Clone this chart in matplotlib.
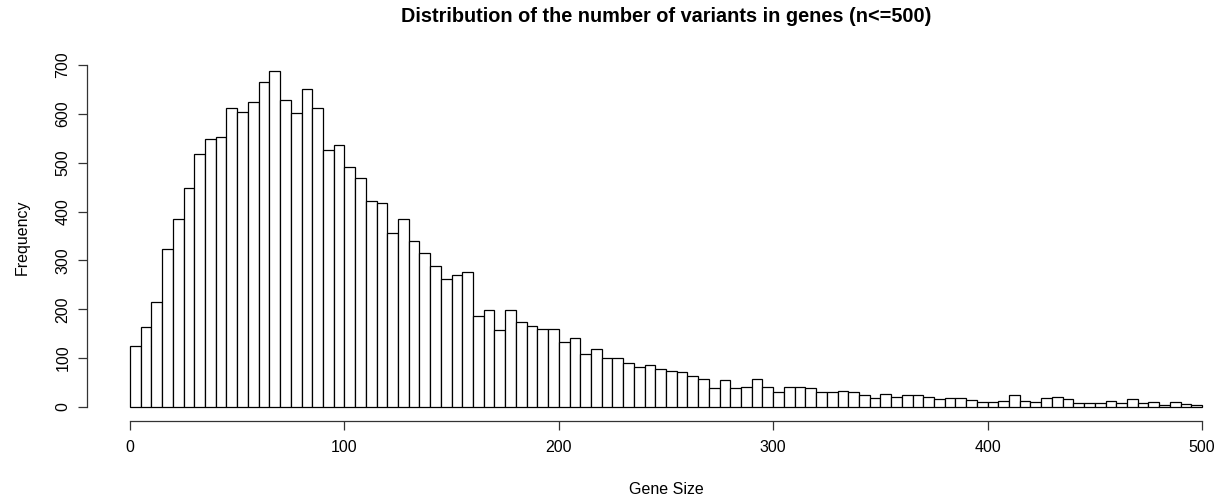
import matplotlib
matplotlib.use("Agg")
import matplotlib.pyplot as plt
import numpy as np

plt.rcParams['font.family'] = ['Liberation Sans', 'DejaVu Sans']

# Histogram bins (width 5) from 0 to 500
bin_edges = list(range(0, 505, 5))
counts = [
    124, 164, 215, 324, 384, 449, 518, 549, 553, 612,
    604, 624, 666, 687, 628, 601, 650, 612, 527, 537,
    492, 468, 422, 417, 357, 385, 340, 315, 288, 261,
    271, 277, 186, 198, 158, 199, 173, 165, 160, 160,
    133, 141, 108, 119, 101, 101, 90, 81, 86, 77,
    74, 72, 64, 58, 38, 55, 38, 41, 58, 41,
    31, 40, 40, 38, 30, 30, 33, 31, 24, 19,
    27, 21, 25, 25, 21, 17, 18, 18, 14, 10,
    10, 13, 25, 13, 10, 18, 21, 16, 8, 8,
    8, 13, 8, 16, 8, 10, 5, 10, 6, 5,
]
x_ticks = [0, 100, 200, 300, 400, 500]
y_ticks = [0, 100, 200, 300, 400, 500, 600, 700]

title = "Distribution of the number of variants in genes (n<=500)"
xlabel = "Gene Size"
ylabel = "Frequency"

W, H = 1220, 500
fig = plt.figure(figsize=(W / 100, H / 100), dpi=100)
# data x: 0 -> 130px, 500 -> 1202px ; data y: 0 -> 407px, 700 -> 65px
left, right = 130, 1202
bottom_px, top_px = 407, 65
ax = fig.add_axes([left / W, (H - bottom_px) / H, (right - left) / W, (bottom_px - top_px) / H])

lefts = np.array(bin_edges[:-1])
widths = np.diff(bin_edges)
bars = ax.bar(lefts, counts, width=widths, align='edge', facecolor='white',
              edgecolor='black', linewidth=0.9)
for b in bars:
    b.set_clip_on(False)

ax.set_xlim(0, 500)
ax.set_ylim(0, 700)

for s in ['top', 'right']:
    ax.spines[s].set_visible(False)
ax.spines['left'].set_position(('outward', 43 * 72 / 100))
ax.spines['bottom'].set_position(('outward', 14 * 72 / 100))
ax.spines['left'].set_bounds(0, 700)
ax.spines['bottom'].set_bounds(0, 500)
for s in ['left', 'bottom']:
    ax.spines[s].set_linewidth(0.9)
    ax.spines[s].set_color('#333333')

ax.set_xticks(x_ticks)
ax.set_yticks(y_ticks)
ax.set_xticklabels([str(v) for v in x_ticks])
ax.set_yticklabels([str(v) for v in y_ticks], rotation=90, va='center')
ax.tick_params(axis='both', length=6.5, width=0.9, color='#333333', labelsize=11.5)
ax.tick_params(axis='x', pad=7)
ax.tick_params(axis='y', pad=5.5)

fig.text((left + right) / 2 / W, 1 - 17 / H, title, ha='center', va='center',
         fontsize=14.3, fontweight='bold')
fig.text((left + right) / 2 / W, 1 - 489 / H, xlabel, ha='center', va='center', fontsize=11.5)
fig.text(22 / W, 1 - 237 / H, ylabel, ha='center', va='center', rotation=90, fontsize=11.5)

fig.savefig("out.png", dpi=100)
